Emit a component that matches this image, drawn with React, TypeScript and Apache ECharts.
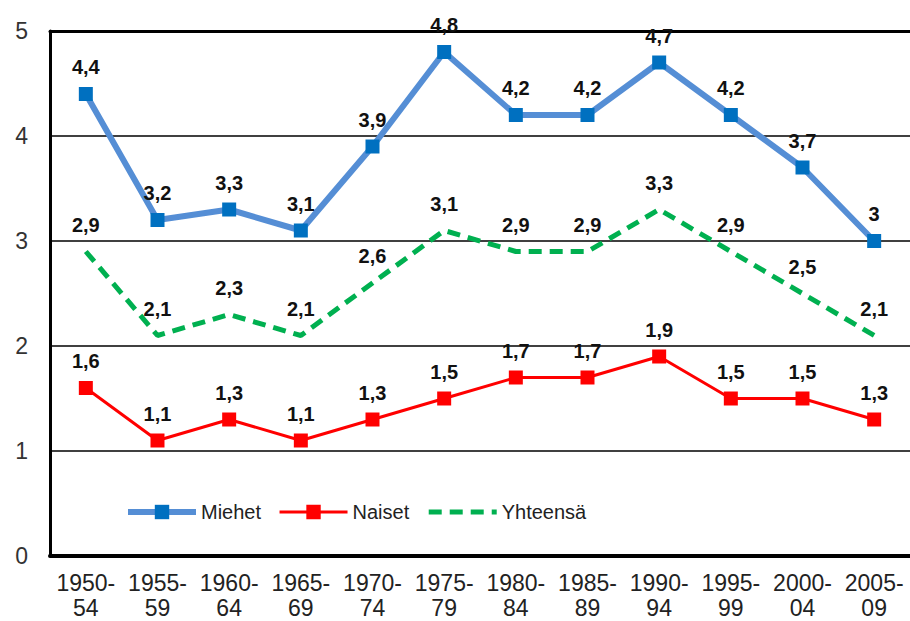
import React, { useEffect, useRef } from "react";
import * as echarts from "echarts";

const categories = [
  "1950-\n54", "1955-\n59", "1960-\n64", "1965-\n69", "1970-\n74", "1975-\n79",
  "1980-\n84", "1985-\n89", "1990-\n94", "1995-\n99", "2000-\n04", "2005-\n09",
];
const miehet = [4.4, 3.2, 3.3, 3.1, 3.9, 4.8, 4.2, 4.2, 4.7, 4.2, 3.7, 3.0];
const naiset = [1.6, 1.1, 1.3, 1.1, 1.3, 1.5, 1.7, 1.7, 1.9, 1.5, 1.5, 1.3];
const yhteensa = [2.9, 2.1, 2.3, 2.1, 2.6, 3.1, 2.9, 2.9, 3.3, 2.9, 2.5, 2.1];

const FONT = 'Arial, "Liberation Sans", sans-serif';

const labelCfg = {
  show: true,
  position: "top" as const,
  distance: 10,
  fontFamily: FONT,
  fontSize: 20,
  fontWeight: "bold" as const,
  color: "#111",
  opacity: 1,
  formatter: (p: any) => String(p.value).replace(".", ","),
};

export default function App() {
  const ref = useRef<HTMLDivElement>(null);
  useEffect(() => {
    if (!ref.current) return;
    const chart = echarts.init(ref.current, null, { renderer: "svg" });
    chart.setOption({
      animation: false,
      backgroundColor: "#fff",
      grid: { left: 50, top: 31, width: 864, bottom: 65, containLabel: false },
      legend: {
        left: 125,
        top: 502,
        padding: 0,
        itemWidth: 68,
        itemHeight: 18,
        itemGap: 17,
        textStyle: { fontFamily: FONT, fontSize: 20, color: "#222" },
        data: [
          { name: "Miehet", lineStyle: { width: 6, color: "#558ED5" } },
          { name: "Naiset", lineStyle: { width: 3, color: "#FF0000" } },
          { name: "Yhteensä", lineStyle: { width: 5, color: "#00B050", type: [13, 8] } },
        ],
      },
      xAxis: [
        {
          type: "category",
          data: categories,
          boundaryGap: true,
          axisTick: { show: false },
          axisLine: { show: true, lineStyle: { color: "#000", width: 4 } },
          axisLabel: {
            fontFamily: FONT,
            fontSize: 23,
            color: "#222",
            lineHeight: 25,
            margin: 14,
            interval: 0,
          },
          splitLine: { show: false },
        },
        {
          type: "category",
          data: categories,
          position: "top",
          axisTick: { show: false },
          axisLabel: { show: false },
          axisLine: { show: true, lineStyle: { color: "#000", width: 3 } },
        },
      ],
      yAxis: {
        type: "value",
        min: 0,
        max: 5,
        interval: 1,
        axisLine: { show: true, lineStyle: { color: "#000", width: 3 } },
        axisTick: { show: false },
        axisLabel: { fontFamily: FONT, fontSize: 23, color: "#333", margin: 22 },
        splitLine: { show: true, lineStyle: { color: "#000", width: 1.5 } },
      },
      series: [
        {
          name: "Miehet",
          type: "line",
          data: miehet,
          symbol: "rect",
          symbolSize: 14,
          lineStyle: { color: "#558ED5", width: 6 },
          itemStyle: { color: "#0070C0" },
          label: labelCfg,
          z: 3,
        },
        {
          name: "Naiset",
          type: "line",
          data: naiset,
          symbol: "rect",
          symbolSize: 14,
          lineStyle: { color: "#FF0000", width: 3 },
          itemStyle: { color: "#FF0000" },
          label: labelCfg,
          z: 3,
        },
        {
          name: "Yhteensä",
          type: "line",
          data: yhteensa,
          symbol: "rect",
          symbolSize: 14,
          lineStyle: { color: "#00B050", width: 5, type: [13, 8] },
          itemStyle: { color: "rgba(0,0,0,0)", borderWidth: 0 },
          label: labelCfg,
          z: 2,
        },
      ],
    });
    return () => chart.dispose();
  }, []);
  return (
    <div
      ref={ref}
      style={{ position: "absolute", left: 0, top: 0, width: 910, height: 621 }}
    />
  );
}
